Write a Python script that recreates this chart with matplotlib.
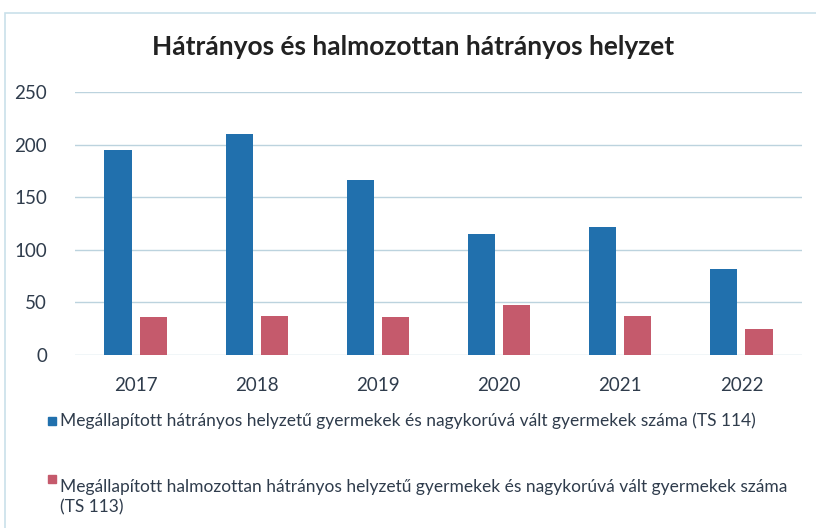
import matplotlib
matplotlib.use("Agg")
import matplotlib.pyplot as plt
import numpy as np
from matplotlib.patches import Rectangle

plt.rcParams["font.family"] = ["Lato", "DejaVu Sans"]

years = ["2017", "2018", "2019", "2020", "2021", "2022"]
ts114 = [195, 210, 166, 115, 122, 82]
ts113 = [36, 37, 36, 48, 37, 25]

title = "Hátrányos és halmozottan hátrányos helyzet"
label_114 = "Megállapított hátrányos helyzetű gyermekek és nagykorúvá vált gyermekek száma (TS 114)"
label_113 = ("Megállapított halmozottan hátrányos helyzetű gyermekek és nagykorúvá vált gyermekek száma\n"
             "(TS 113)")

blue = "#2170ad"
red = "#c55a6c"
grid_col = "#bcd3de"
text_col = "#2f3c4c"

W, H = 816, 528
fig = plt.figure(figsize=(W / 100, H / 100), dpi=100)
fig.patch.set_facecolor("white")

# faint chart border (top/left visible in the scan)
fig.patches.append(Rectangle((5 / W, -0.1), 1.2, 1.1 - 13 / H, transform=fig.transFigure,
                             fill=False, edgecolor="#c9e0ea", linewidth=1.2))

ax = fig.add_axes([75 / W, 173 / H, 727 / W, 263 / H])
x = np.arange(len(years))
bw = 0.225
ax.bar(x - 0.145, ts114, width=bw, color=blue, zorder=3)
ax.bar(x + 0.145, ts113, width=bw, color=red, zorder=3)

ax.set_xlim(-0.5, len(years) - 0.5)
ax.set_ylim(0, 250)
ax.set_yticks(range(0, 251, 50))
ax.set_xticks(x)
ax.set_xticklabels(years)
ax.grid(axis="y", color=grid_col, linewidth=1.0, zorder=0)
ax.set_axisbelow(True)
for s in ax.spines.values():
    s.set_visible(False)
ax.tick_params(axis="both", length=0, labelsize=13.5, colors=text_col)
ax.tick_params(axis="x", pad=16)
ax.tick_params(axis="y", pad=20)

fig.text(413 / W, 1 - 47 / H, title, ha="center", va="center", fontsize=19,
         fontweight="bold", color="#222222")

# legend entries as stacked rows below the plot
fig.patches.append(Rectangle((48 / W, 1 - 425 / H), 8 / W, 8 / H, transform=fig.transFigure,
                             color=blue))
fig.text(60 / W, 1 - 421 / H, label_114, ha="left", va="center", fontsize=12.5, color=text_col)
fig.patches.append(Rectangle((48 / W, 1 - 483 / H), 8 / W, 8 / H, transform=fig.transFigure,
                             color=red))
fig.text(60 / W, 1 - 479 / H, label_113, ha="left", va="top", fontsize=12.5, color=text_col,
         linespacing=1.35)

fig.savefig("out.png", dpi=100)
